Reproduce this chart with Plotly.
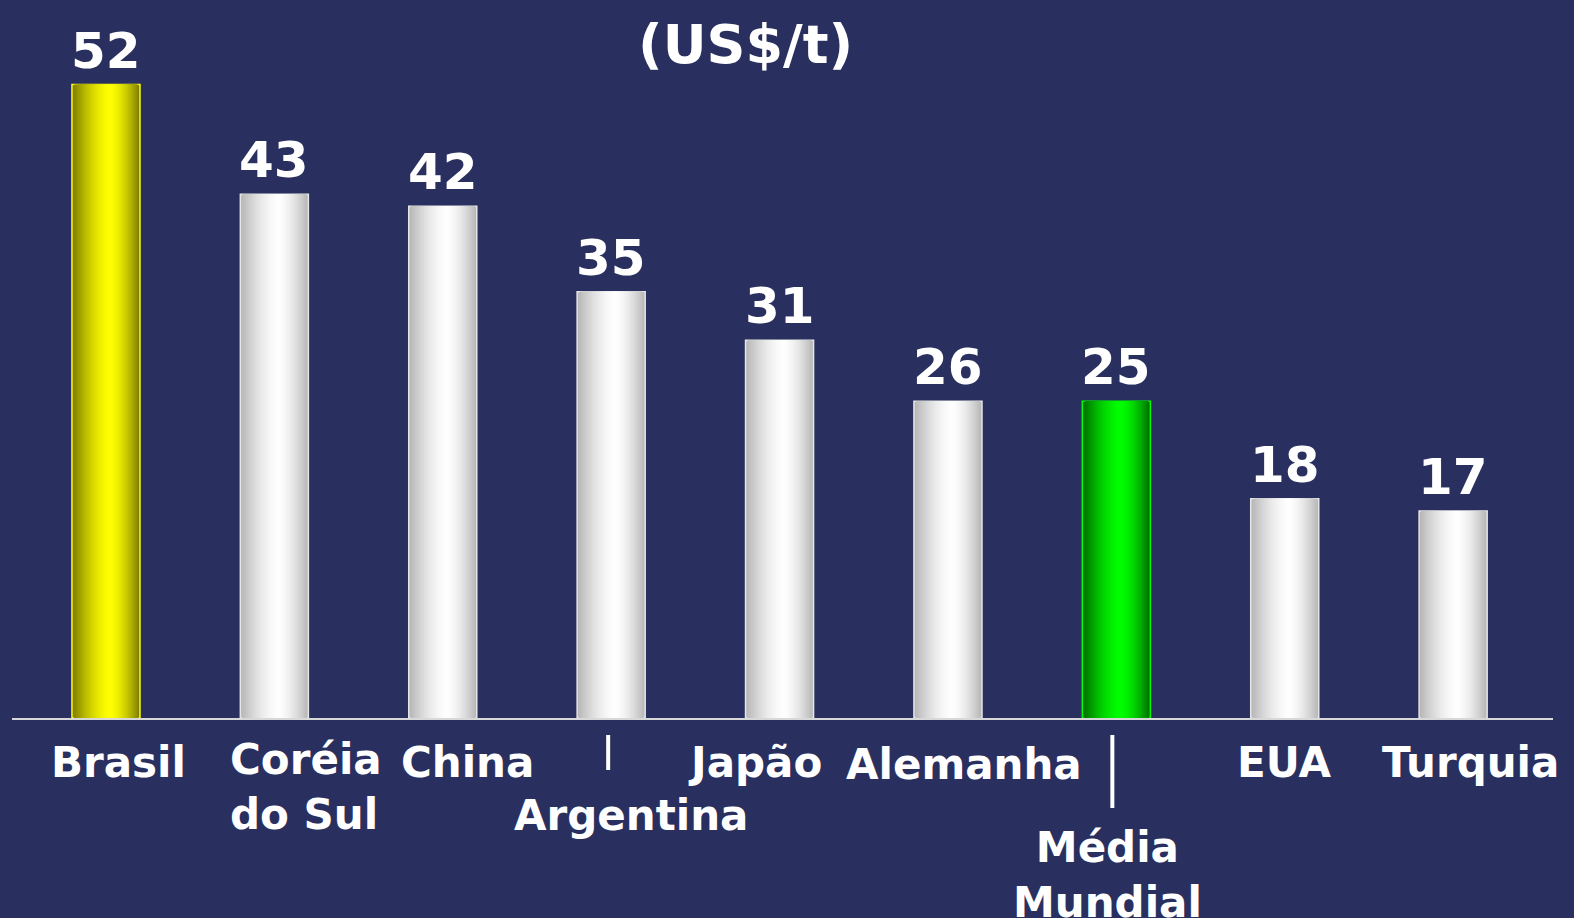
"""Bar chart: custo (US$/t) por país"""

import plotly.graph_objects as go

# ---- data -------------------------------------------------------------
countries = ["Brasil", "Coréia do Sul", "China", "Argentina", "Japão",
             "Alemanha", "Média Mundial", "EUA", "Turquia"]
values = [52, 43, 42, 35, 31, 26, 26, 18, 17]          # bar heights as drawn
value_labels = ["52", "43", "42", "35", "31", "26", "25", "18", "17"]
axis_labels = ["Brasil", "Coréia<br>do Sul", "China", "Argentina", "Japão",
               "Alemanha", "Média<br>Mundial", "EUA", "Turquia"]
title_text = "(US$/t)"

# ---- style ------------------------------------------------------------
BG = "#29305f"
FONT = "DejaVu Sans"
# (edge colour, centre colour, outline) per bar
palette = {
    "white": ((182, 182, 182), (255, 255, 255), "#e6e6e6"),
    "yellow": ((125, 125, 0), (255, 255, 0), "#ffff00"),
    "green": ((0, 110, 0), (0, 255, 0), "#00ff00"),
}
bar_kind = ["yellow", "white", "white", "white", "white",
            "white", "green", "white", "white"]

# label placement tweaks (px): xshift, vertical centre below axis, anchor
label_dx = [13, -46, 25, 20, -25, 16, -9, 0, 17]
label_dy = [44, 69, 44, 97, 44, 46, 157, 44, 44]
label_anchor = ["center", "left", "center", "center", "center",
                "center", "center", "center", "center"]
tick_marks = {3: (17, 52, -3), 6: (17, 90, -4)}   # idx: (top, bottom, dx) px

BAR_W = 0.404
N_LAYERS = 20
PEAK = 0.56

fig = go.Figure()
x_idx = list(range(len(countries)))

# cylinder-like shading: stack narrowing bars that get lighter
for k in range(N_LAYERS):
    t = k / N_LAYERS
    left = -BAR_W / 2 + t * PEAK * BAR_W
    right = BAR_W / 2 - t * (1 - PEAK) * BAR_W
    s = 1 - (1 - t) ** 1.6
    cols = []
    for kind in bar_kind:
        edge, centre, _ = palette[kind]
        c = [round(e + (cc - e) * s) for e, cc in zip(edge, centre)]
        cols.append(f"rgb({c[0]},{c[1]},{c[2]})")
    line = dict(width=0)
    if k == 0:
        line = dict(width=1.5, color=[palette[kd][2] for kd in bar_kind])
    fig.add_trace(go.Bar(
        x=x_idx, y=values, width=right - left, offset=left,
        marker=dict(color=cols, line=line),
        hoverinfo="skip" if k else "y", showlegend=False,
    ))

annotations = []
for i, (v, lab) in enumerate(zip(values, value_labels)):
    annotations.append(dict(
        x=i, y=v, yref="y", text=f"<b>{lab}</b>", showarrow=False,
        yanchor="bottom", yshift=3,
        font=dict(family=FONT, size=50, color="white"),
    ))
for i, lab in enumerate(axis_labels):
    annotations.append(dict(
        x=i, y=0, yref="y", text=f"<b>{lab}</b>", showarrow=False,
        xanchor=label_anchor[i], align=label_anchor[i] if label_anchor[i] == "left" else "center",
        yanchor="middle", xshift=label_dx[i], yshift=-label_dy[i],
        font=dict(family=FONT, size=42, color="white"),
    ))
annotations.append(dict(
    x=0.476, y=1, xref="paper", yref="paper", yanchor="middle", yshift=4,
    text=f"<b>{title_text}</b>", showarrow=False,
    font=dict(family=FONT, size=54, color="white"),
))

PLOT_H = 670
shapes = []
for i, (top, bot, dx) in tick_marks.items():
    xi = i + dx / 168.4
    shapes.append(dict(
        type="line", xref="x", yref="paper", x0=xi, x1=xi,
        y0=-top / PLOT_H, y1=-bot / PLOT_H,
        line=dict(color="white", width=4),
    ))

fig.update_layout(
    width=1574, height=918,
    margin=dict(l=12, r=21, t=48, b=200),
    paper_bgcolor=BG, plot_bgcolor=BG,
    barmode="overlay",
    annotations=annotations, shapes=shapes,
    font=dict(family=FONT, color="white"),
    xaxis=dict(range=[-0.558, 8.593], showticklabels=False, showgrid=False,
               zeroline=False, showline=True, linecolor="#d8d8d8", linewidth=2,
               fixedrange=True),
    yaxis=dict(range=[0, 55], visible=False, showgrid=False, fixedrange=True),
)

# drop the default page margin so the figure fills the window
fig.write_html("out.html", config={"displayModeBar": False},
               post_script="document.body.style.margin='0';"
                           "document.body.style.background='" + BG + "';")
